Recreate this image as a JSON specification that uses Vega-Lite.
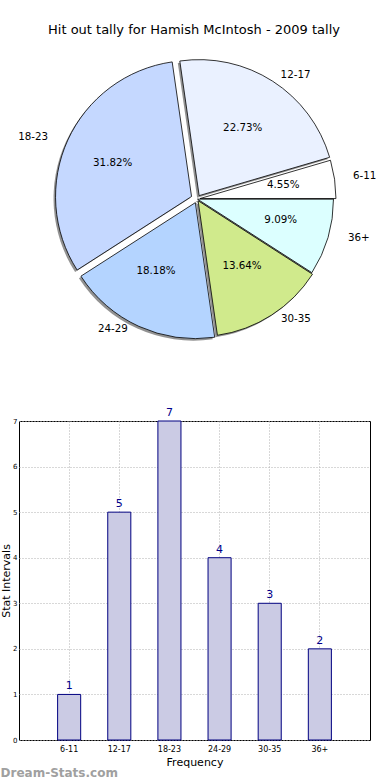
{
  "$schema": "https://vega.github.io/schema/vega-lite/v6.json",
  "padding": {"top": 24, "left": 0, "right": 0, "bottom": 0},
  "background": "white",
  "bounds": "flush",
  "spacing": 75,
  "config": {"font": "DejaVu Sans", "view": {"stroke": null}},
  "data": {
    "values": [
      {"idx": 1, "cat": "6-11", "value": 1, "pct": "4.55%"},
      {"idx": 2, "cat": "12-17", "value": 5, "pct": "22.73%"},
      {"idx": 3, "cat": "18-23", "value": 7, "pct": "31.82%"},
      {"idx": 4, "cat": "24-29", "value": 4, "pct": "18.18%"},
      {"idx": 5, "cat": "30-35", "value": 3, "pct": "13.64%"},
      {"idx": 6, "cat": "36+", "value": 2, "pct": "9.09%"}
    ]
  },
  "vconcat": [
    {
      "width": 356,
      "height": 294,
      "title": {"text": "Hit out tally for Hamish McIntosh - 2009 tally", "fontSize": 13, "fontWeight": "normal", "color": "#000000", "anchor": "middle", "frame": "group", "offset": 15, "dx": -3},
      "view": {"stroke": null},
      "encoding": {
        "theta": {"field": "value", "type": "quantitative", "stack": true, "scale": {"domain": [0, 22], "range": [1.5708, 7.854]}},
        "order": {"field": "idx", "type": "quantitative", "sort": "descending"}
      },
      "layer": [
        {
          "mark": {"type": "arc", "radius": 136, "color": "#777777", "opacity": 0.8,
                   "xOffset": {"expr": "-2 + (datum.idx==1 ? 2.97 : datum.idx==2 ? 2.16 : datum.idx==3 ? -5.46 : datum.idx==4 ? -1.66 : datum.idx==5 ? 1.08 : 0.48)"},
                   "yOffset": {"expr": "2 + (datum.idx==1 ? -0.43 : datum.idx==2 ? -3.37 : datum.idx==3 ? -2.49 : datum.idx==4 ? 3.64 : datum.idx==5 ? 1.68 : 0.14)"}}
        },
        {
          "mark": {"type": "arc", "radius": 136, "stroke": "#000000", "strokeWidth": 0.8,
                   "xOffset": {"expr": "datum.idx==1 ? 2.97 : datum.idx==2 ? 2.16 : datum.idx==3 ? -5.46 : datum.idx==4 ? -1.66 : datum.idx==5 ? 1.08 : 0.48"},
                   "yOffset": {"expr": "datum.idx==1 ? -0.43 : datum.idx==2 ? -3.37 : datum.idx==3 ? -2.49 : datum.idx==4 ? 3.64 : datum.idx==5 ? 1.68 : 0.14"}},
          "encoding": {
            "color": {"field": "cat", "type": "nominal", "legend": null,
              "scale": {"domain": ["6-11", "12-17", "18-23", "24-29", "30-35", "36+"],
                        "range": ["#ffffff", "#eaf1ff", "#c5d8ff", "#b4d4ff", "#d0ea8c", "#dcffff"]}}
          }
        },
        {
          "mark": {"type": "text", "radius": 84, "fontSize": 10.3, "color": "#000000",
                   "dx": {"expr": "datum.idx==1 ? 3.1 : datum.idx==2 ? 0.3 : datum.idx==3 ? -7.9 : datum.idx==4 ? -6.1 : datum.idx==5 ? -0.4 : 3.1"},
                   "dy": {"expr": "datum.idx==1 ? -2.1 : datum.idx==2 ? -0.4 : datum.idx==3 ? -0.8 : datum.idx==4 ? -4.4 : datum.idx==5 ? -3.3 : -2.7"}},
          "encoding": {"text": {"field": "pct"}}
        },
        {
          "mark": {"type": "text", "radius": 148, "fontSize": 10.3, "color": "#000000",
                   "align": {"expr": "datum.idx==3 || datum.idx==4 ? 'right' : 'left'"},
                   "dx": {"expr": "datum.idx==1 ? 9.5 : datum.idx==2 ? 3.6 : datum.idx==3 ? -14.3 : datum.idx==4 ? -7.6 : datum.idx==5 ? 3.9 : 9"},
                   "dy": {"expr": "datum.idx==1 ? -2 : datum.idx==2 ? 0.5 : datum.idx==3 ? -0.6 : datum.idx==4 ? -4.7 : datum.idx==5 ? -4.5 : -2.7"}},
          "encoding": {"text": {"field": "cat"}}
        }
      ]
    },
    {
      "width": 351,
      "height": 319,
      "title": {"text": "Dream-Stats.com", "orient": "bottom", "anchor": "start", "frame": "bounds", "fontSize": 12, "fontWeight": "bold", "color": "#a0a0a0", "offset": 1, "dx": 0},
      "view": {"stroke": "#000000", "strokeWidth": 1},
      "encoding": {
        "x": {"field": "cat", "type": "nominal", "sort": null,
          "scale": {"paddingInner": 0.54, "paddingOuter": 0.77},
          "axis": {"title": "Frequency", "titleFontSize": 11, "titleFontWeight": "normal", "titleColor": "#000000", "titlePadding": 3,
                   "labelAngle": 0, "labelFontSize": 8, "labelColor": "#000000", "labelPadding": 5, "ticks": false, "domain": false,
                   "grid": true, "bandPosition": 0.5, "gridColor": "#b0b0b0", "gridDash": [1, 2], "gridWidth": 1}},
        "y": {"field": "value", "type": "quantitative",
          "scale": {"domain": [0, 7], "nice": false},
          "axis": {"title": "Stat Intervals", "titleFontSize": 11, "titleFontWeight": "normal", "titleColor": "#000000", "titlePadding": 1,
                   "values": [0, 1, 2, 3, 4, 5, 6, 7], "labelFontSize": 7, "labelColor": "#000000", "labelPadding": 2, "ticks": false, "domain": false,
                   "grid": true, "gridColor": "#b0b0b0", "gridDash": [1, 2], "gridWidth": 1}}
      },
      "layer": [
        {"mark": {"type": "bar", "fill": "#cbcbe4", "stroke": "#000080", "strokeWidth": 1}},
        {"mark": {"type": "text", "baseline": "bottom", "dy": -3, "fontSize": 11, "color": "#00008b"},
         "encoding": {"text": {"field": "value", "type": "quantitative"}}}
      ]
    }
  ]
}
